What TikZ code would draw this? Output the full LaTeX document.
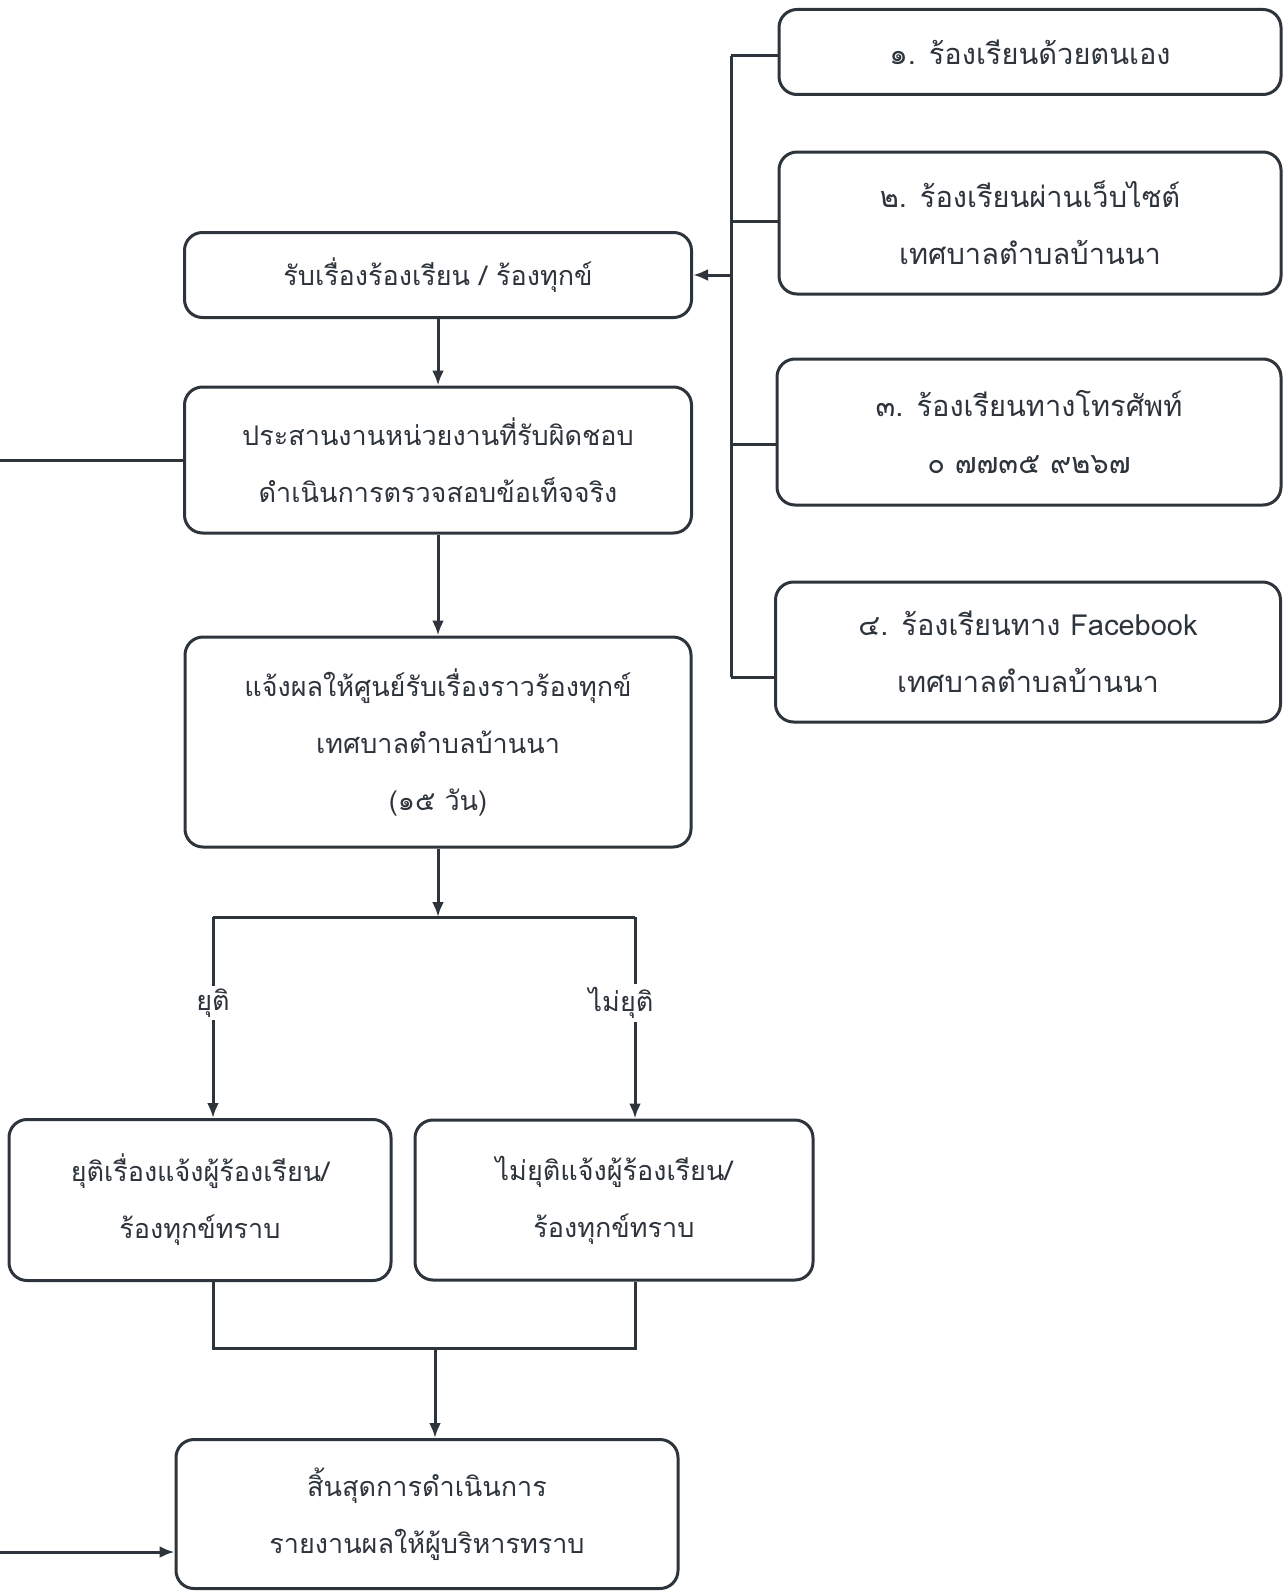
\documentclass[tikz,border=0pt]{standalone}
\usepackage{fontspec}
\newfontfamily\thaifont[Script=Thai]{Loma}
\usetikzlibrary{calc, arrows.meta}

\definecolor{ink}{RGB}{45,52,60}

\tikzset{
  box/.style={draw=ink, line width=3pt, rounded corners=18pt, align=center,
    inner sep=0pt, text=ink, font=\thaifont\fontsize{27}{57}\selectfont},
  chan/.style={box, font=\thaifont\fontsize{29}{57}\selectfont},
  link/.style={draw=ink, line width=3pt},
  arr/.style={link, -{Latex[length=15pt, width=12pt]}},
  lbl/.style={fill=white, text=ink, inner sep=3pt, font=\thaifont\fontsize{27}{30}\selectfont},
}

\begin{document}
\begin{tikzpicture}[x=1pt, y=-1pt]

  \useasboundingbox (0,0) rectangle (1283,1592);

  % main column
  \node[box, minimum width=507pt, minimum height=85pt] (recv) at (438,275) {รับเรื่องร้องเรียน / ร้องทุกข์};
  \node[box, minimum width=507pt, minimum height=146pt] (coord) at (438,460) {ประสานงานหน่วยงานที่รับผิดชอบ\\ดำเนินการตรวจสอบข้อเท็จจริง};
  \node[box, minimum width=506pt, minimum height=210pt] (notify) at (438,742) {แจ้งผลให้ศูนย์รับเรื่องราวร้องทุกข์\\เทศบาลตำบลบ้านนา\\(๑๕ วัน)};
  \node[box, minimum width=382pt, minimum height=161pt] (done) at (200,1200) {ยุติเรื่องแจ้งผู้ร้องเรียน/\\ร้องทุกข์ทราบ};
  \node[box, minimum width=398pt, minimum height=160pt] (open) at (614,1200) {ไม่ยุติแจ้งผู้ร้องเรียน/\\ร้องทุกข์ทราบ};
  \node[box, minimum width=502pt, minimum height=149pt] (close) at (427,1514) {สิ้นสุดการดำเนินการ\\รายงานผลให้ผู้บริหารทราบ};

  % channels
  \node[chan, minimum width=502pt, minimum height=85pt] (ch1) at (1030,52) {๑. ร้องเรียนด้วยตนเอง};
  \node[chan, minimum width=502pt, minimum height=142pt] (ch2) at (1030,223) {๒. ร้องเรียนผ่านเว็บไซต์\\เทศบาลตำบลบ้านนา};
  \node[chan, minimum width=504pt, minimum height=146pt] (ch3) at (1029,432) {๓. ร้องเรียนทางโทรศัพท์\\๐ ๗๗๓๕ ๙๒๖๗};
  \node[chan, minimum width=505pt, minimum height=140pt] (ch4) at (1028,652) {๔. ร้องเรียนทาง Facebook\\เทศบาลตำบลบ้านนา};

  \coordinate (ttop) at (731,56);
  \coordinate (tmid) at (731,275);
  \coordinate (tbot) at (731,677);
  \draw[link] (ttop) -- (tbot);
  \foreach \n/\y in {ch1/56, ch2/221, ch3/444, ch4/677}
    \draw[link] (731,\y) -- (\n.west |- 0,\y);
  \draw[arr] (tmid) -- (recv.east);

  \draw[arr] (recv.south) -- (coord.north);
  \draw[arr] (coord.south) -- (notify.north);

  \coordinate (split) at (438,917);
  \coordinate (splitL) at (213,917);
  \coordinate (splitR) at (635,917);
  \draw[arr] (notify.south) -- (split);
  \draw[link] (splitL) -- (splitR);
  \draw[arr] (splitL) -- (splitL |- done.north);
  \draw[arr] (splitR) -- (splitR |- open.north);

  \node[lbl] (yes) at (213,1003) {ยุติ};
  \node[lbl] (no) at (621,1003) {ไม่ยุติ};

  \coordinate (joinL) at (213,1348);
  \coordinate (joinR) at (635,1348);
  \coordinate (join) at (435,1348);
  \draw[link] (joinL |- done.south) -- (joinL) -- (joinR) -- (joinR |- open.south);
  \draw[arr] (join) -- (join |- close.north);

  % from the left margin
  \coordinate (edgeA) at (0,460);
  \coordinate (edgeB) at (0,1552);
  \draw[link] (edgeA) -- (coord.west);
  \draw[arr] (edgeB) -- (edgeB -| close.west);

\end{tikzpicture}
\end{document}
